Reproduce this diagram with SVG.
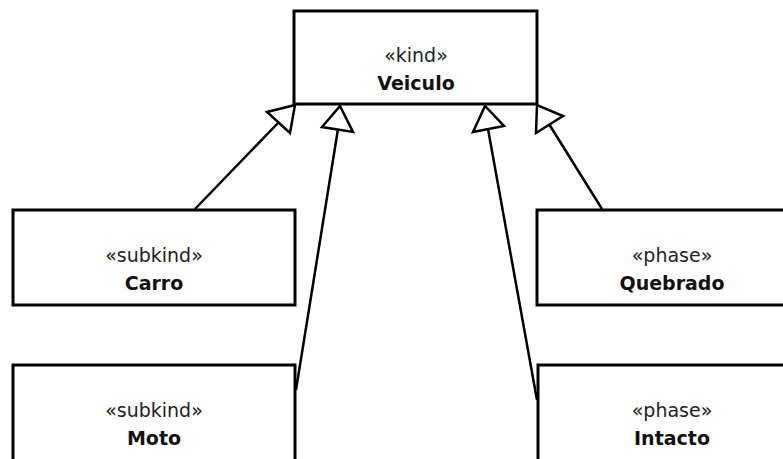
<svg xmlns="http://www.w3.org/2000/svg" width="783" height="459" viewBox="0 0 783 459">
<style>
.box{fill:#fff;stroke:#000;stroke-width:3}
.st{font-family:"DejaVu Sans",Verdana,sans-serif;font-size:19px;fill:#222;text-anchor:middle}
.nm{font-family:"DejaVu Sans",Verdana,sans-serif;font-size:19px;font-weight:bold;fill:#111;text-anchor:middle}
.ln{stroke:#000;stroke-width:2.5;fill:none}
.hd{stroke:#000;stroke-width:2.5;fill:#fff;stroke-linejoin:miter}
</style>
<rect width="783" height="459" fill="#fff"/>
<g id="Veiculo">
<rect class="box" x="294" y="11" width="243" height="93"/>
<text class="st" x="416" y="62">«kind»</text>
<text class="nm" x="416" y="90">Veiculo</text>
</g>
<g id="Carro">
<rect class="box" x="13" y="210" width="282" height="95"/>
<text class="st" x="154" y="262">«subkind»</text>
<text class="nm" x="154" y="290">Carro</text>
</g>
<g id="Moto">
<rect class="box" x="13" y="365" width="282" height="110"/>
<text class="st" x="154" y="417">«subkind»</text>
<text class="nm" x="154" y="445">Moto</text>
</g>
<g id="Quebrado">
<rect class="box" x="537" y="210" width="272" height="95"/>
<text class="st" x="672" y="262">«phase»</text>
<text class="nm" x="672" y="290">Quebrado</text>
</g>
<g id="Intacto">
<rect class="box" x="538" y="365" width="272" height="110"/>
<text class="st" x="672" y="417">«phase»</text>
<text class="nm" x="672" y="445">Intacto</text>
</g>
<g id="connectors">
<line class="ln" x1="195" y1="209" x2="279" y2="122"/>
<polygon class="hd" points="295,105 267,112 290,133"/>
<line class="ln" x1="296" y1="390" x2="338" y2="129"/>
<polygon class="hd" points="340,106 322,127 353,132"/>
<line class="ln" x1="537" y1="400" x2="488" y2="129"/>
<polygon class="hd" points="485,106 473,132 504,126"/>
<line class="ln" x1="602" y1="209" x2="549" y2="124"/>
<polygon class="hd" points="537,105 536,133 563,116"/>
</g>
</svg>
